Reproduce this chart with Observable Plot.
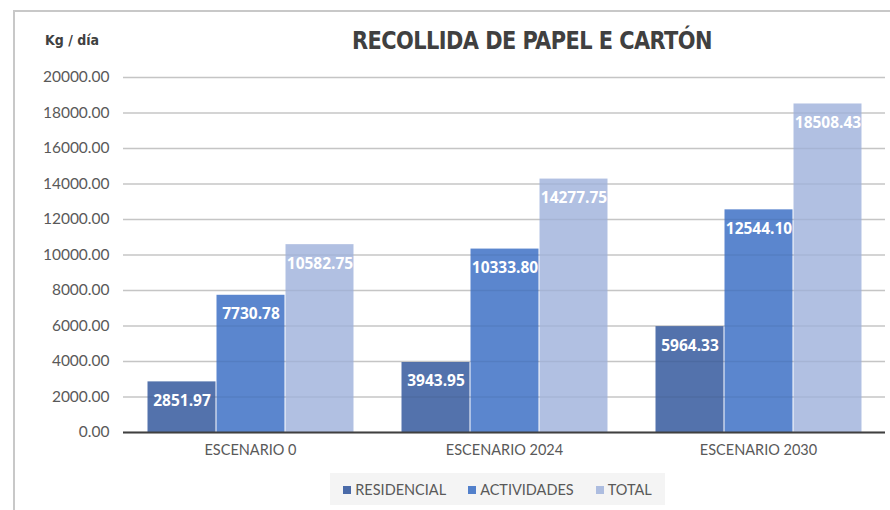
<!DOCTYPE html>
<html>
<head>
<meta charset="utf-8">
<script src="https://cdn.jsdelivr.net/npm/d3@7"></script>
<script src="https://cdn.jsdelivr.net/npm/@observablehq/plot@0.6"></script>
<style>
  html, body { margin: 0; padding: 0; background: #fff; }
  #wrap { position: relative; width: 890px; height: 510px; overflow: hidden; }
  #border { position: absolute; left: 13px; top: 10px; width: 890px; height: 520px; border-left: 2px solid #c8c8c8; border-top: 2px solid #c8c8c8; }
  #title { position: absolute; left: 0; width: 1064px; top: 26px; text-align: center; font-family: "DejaVu Sans Condensed", "DejaVu Sans"; font-weight: bold; font-size: 25px; color: #404040; letter-spacing: -0.6px; transform: scaleX(0.93); transform-origin: 532px 0; }
  #unit { position: absolute; left: 45px; top: 32px; font-family: "DejaVu Sans Condensed", "DejaVu Sans"; font-weight: bold; font-size: 14px; color: #404040; }
  #legend { position: absolute; left: 330px; top: 473px; width: 335px; height: 32px; background: #f4f4f4; display: flex; align-items: center; justify-content: center; gap: 22px; font-family: Lato; font-size: 14.5px; color: #595959; }
  #legend span.sw { display: inline-block; width: 8px; height: 8px; margin-right: 4px; vertical-align: 1px; }
  #chart { position: absolute; left: 0; top: 0; }
</style>
</head>
<body>
<div id="wrap">
  <div id="chart"></div>
  <div id="border"></div>
  <div id="unit">Kg / día</div>
  <div id="title">RECOLLIDA DE PAPEL E CARTÓN</div>
  <div id="legend"></div>
</div>
<script>
const categories = ["ESCENARIO 0", "ESCENARIO 2024", "ESCENARIO 2030"];
const series = ["RESIDENCIAL", "ACTIVIDADES", "TOTAL"];
const residencial = [2851.97, 3943.95, 5964.33];
const actividades = [7730.78, 10333.80, 12544.10];
const total = [10582.75, 14277.75, 18508.43];
const yTicks = [0, 2000, 4000, 6000, 8000, 10000, 12000, 14000, 16000, 18000, 20000];
const colors = ["#4a6aa8", "#5280cb", "#adbde0"];

const valuesBySeries = [residencial, actividades, total];
const data = [];
categories.forEach((c, i) => {
  series.forEach((s, j) => data.push({cat: c, series: s, value: valuesBySeries[j][i]}));
});

const chart = Plot.plot({
  width: 890,
  height: 510,
  marginTop: 77,
  marginBottom: 78,
  marginLeft: 122,
  marginRight: 5,
  style: {fontFamily: "Lato", background: "transparent"},
  fx: {domain: categories, padding: 0, label: null},
  x: {domain: series, paddingInner: 0, paddingOuter: 0.32, axis: null},
  y: {domain: [0, 20000], axis: null},
  color: {domain: series, range: colors},
  marks: [
    Plot.ruleY(yTicks, {stroke: "#d0d0d0", strokeWidth: 1.5}),
    Plot.barY(data, {fx: "cat", x: "series", y: "value", fill: "series", fillOpacity: 0.95, insetLeft: 0.5, insetRight: 0.5}),
    Plot.ruleY(yTicks.filter(d => d > 0), {stroke: "#000", strokeOpacity: 0.05, strokeWidth: 1.5}),
    Plot.text(data, {fx: "cat", x: "series", y: "value", text: d => d.value.toFixed(2), dy: 19, fill: "white", fontWeight: "bold", fontSize: 15.5, fontFamily: "Open Sans"}),
    Plot.ruleY([0], {stroke: "#404040", strokeWidth: 2}),
    Plot.axisY(yTicks, {tickSize: 0, tickPadding: 14, tickFormat: d => d.toFixed(2), fontSize: 15.5, fill: "#595959", label: null}),
    Plot.axisFx({anchor: "bottom", tickSize: 0, tickPadding: 12, fontSize: 14.5, fill: "#595959", label: null})
  ]
});
document.getElementById("chart").appendChild(chart);

const legend = document.getElementById("legend");
series.forEach((s, j) => {
  const item = document.createElement("div");
  item.innerHTML = `<span class="sw" style="background:${colors[j]}"></span>${s}`;
  legend.appendChild(item);
});
</script>
</body>
</html>
